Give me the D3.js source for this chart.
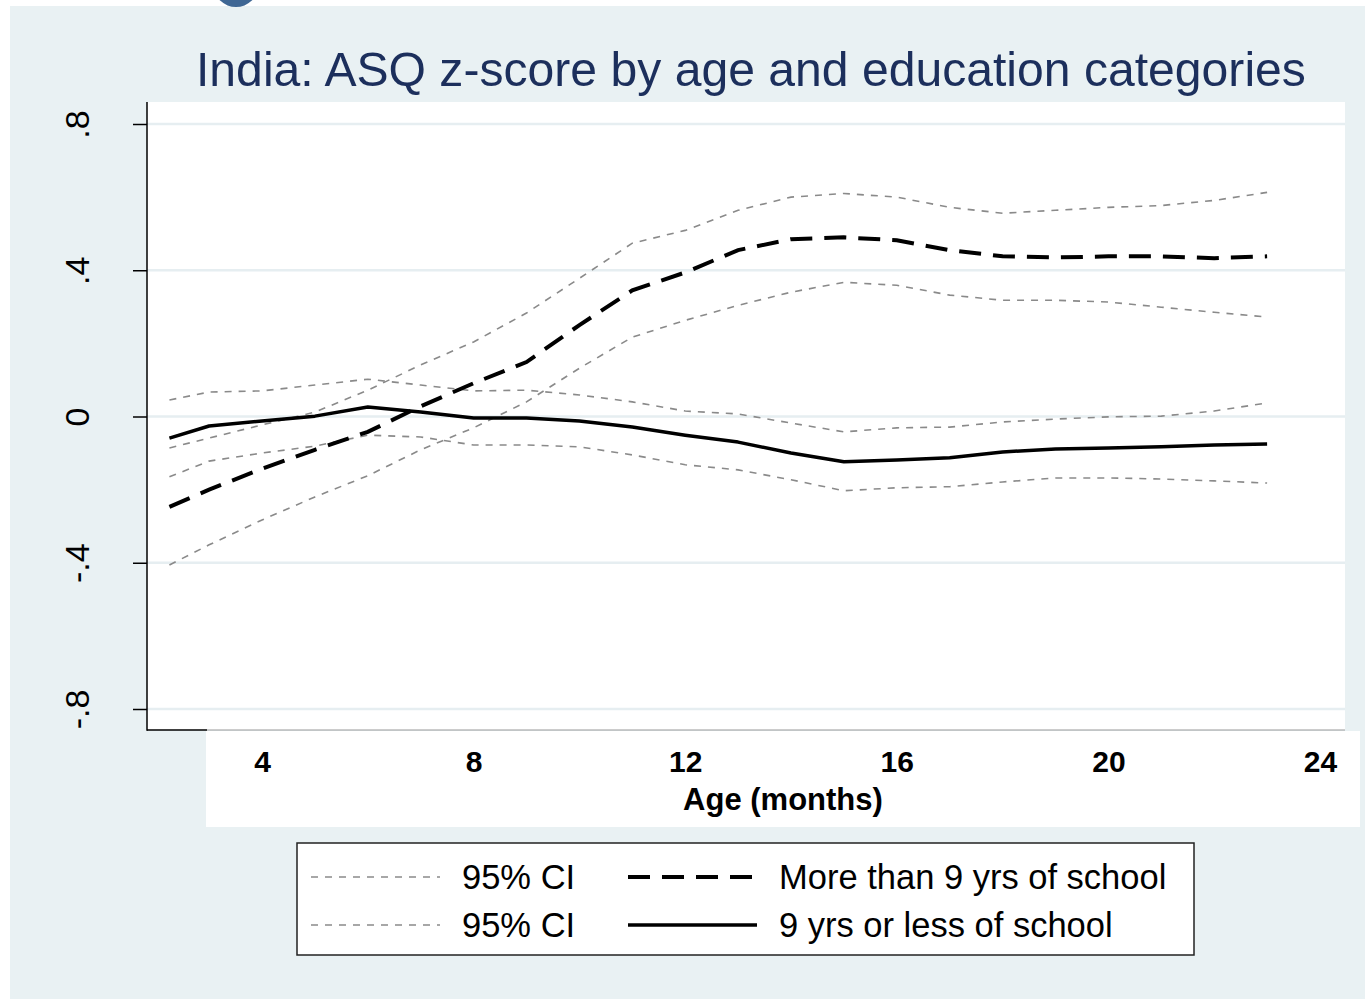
<!DOCTYPE html>
<html>
<head>
<meta charset="utf-8">
<script src="https://cdn.jsdelivr.net/npm/d3@7"></script>
<style>
  body { margin: 0; background: #fff; }
  svg { display: block; font-family: "Liberation Sans", Arial, sans-serif; }
</style>
</head>
<body>
<div id="chart"></div>
<script>
//// data (age in months, ASQ z-score)
var ages = [2.25, 3, 4, 5, 6, 7, 8, 9, 10, 11, 12, 13, 14, 15, 16, 17, 18, 19, 20, 21, 22, 23];

var moreSchool   = [-0.247, -0.200, -0.143, -0.091, -0.042, 0.028, 0.091, 0.149, 0.250, 0.345, 0.394, 0.455, 0.485, 0.490, 0.482, 0.455, 0.438, 0.435, 0.438, 0.438, 0.433, 0.438];
var moreSchoolHi = [-0.086, -0.059, -0.023, 0.012, 0.072, 0.141, 0.204, 0.283, 0.378, 0.474, 0.509, 0.564, 0.600, 0.610, 0.600, 0.572, 0.556, 0.564, 0.572, 0.577, 0.591, 0.613];
var moreSchoolLo = [-0.406, -0.351, -0.283, -0.220, -0.162, -0.091, -0.031, 0.040, 0.132, 0.217, 0.263, 0.304, 0.340, 0.367, 0.359, 0.332, 0.318, 0.318, 0.313, 0.299, 0.285, 0.272];

var lessSchool   = [-0.059, -0.026, -0.012, 0.001, 0.026, 0.012, -0.004, -0.004, -0.012, -0.029, -0.051, -0.070, -0.100, -0.124, -0.119, -0.113, -0.097, -0.089, -0.086, -0.083, -0.078, -0.075];
var lessSchoolHi = [0.045, 0.067, 0.070, 0.086, 0.102, 0.086, 0.070, 0.072, 0.059, 0.040, 0.015, 0.007, -0.018, -0.042, -0.031, -0.029, -0.015, -0.007, -0.001, 0.001, 0.015, 0.037];
var lessSchoolLo = [-0.165, -0.122, -0.100, -0.081, -0.051, -0.056, -0.078, -0.078, -0.083, -0.105, -0.132, -0.146, -0.173, -0.203, -0.195, -0.192, -0.179, -0.168, -0.168, -0.171, -0.176, -0.182];

var yTicks = [-0.8, -0.4, 0, 0.4, 0.8];
var yTickLabels = ["-.8", "-.4", "0", ".4", ".8"];
var xTicks = [4, 8, 12, 16, 20, 24];

var titleText = "India: ASQ z-score by age and education categories";
var xTitle = "Age (months)";
var legendItems = [
  {label: "95% CI", style: "ci"},
  {label: "More than 9 yrs of school", style: "dash"},
  {label: "95% CI", style: "ci"},
  {label: "9 yrs or less of school", style: "solid"}
];

//// chart
var W = 1365, H = 999;
var plot = {left: 147, right: 1345, top: 102, bottom: 730};
var panelBg = "#e9f1f3";

var svg = d3.select("#chart").append("svg")
    .attr("width", W)
    .attr("height", H);

// outer panel
svg.append("rect").attr("x", 10).attr("y", 6).attr("width", W - 10).attr("height", H - 6)
    .attr("fill", panelBg);

// bit of blue shape peeking in at top
svg.append("ellipse").attr("cx", 236).attr("cy", -14).attr("rx", 22).attr("ry", 21)
    .attr("fill", "#3f6794");

var xScale = d3.scaleLinear().domain([4, 24]).range([262, 1320]);
var yScale = d3.scaleLinear().domain([-0.8, 0.8]).range([709, 124]);

// plot region
svg.append("rect")
    .attr("x", plot.left).attr("y", plot.top)
    .attr("width", plot.right - plot.left).attr("height", plot.bottom - plot.top)
    .attr("fill", "#fff");

// gridlines
svg.append("g").selectAll("line")
    .data(yTicks).enter().append("line")
    .attr("x1", plot.left).attr("x2", plot.right)
    .attr("y1", d => yScale(d)).attr("y2", d => yScale(d))
    .attr("stroke", "#e6eef1")
    .attr("stroke-width", 2.5);

// y axis
var yAxis = svg.append("g")
    .attr("transform", "translate(" + plot.left + ",0)")
    .call(d3.axisLeft(yScale).tickValues(yTicks).tickSize(14).tickPadding(0)
        .tickFormat((d, i) => yTickLabels[i]));
yAxis.select(".domain").remove();
yAxis.selectAll(".tick line").attr("stroke", "#000").attr("stroke-width", 1.5);
yAxis.selectAll(".tick text")
    .attr("transform", "translate(-70,0) rotate(-90)")
    .attr("x", 0).attr("dy", "0.36em")
    .attr("text-anchor", "middle")
    .attr("font-size", 34)
    .attr("fill", "#000");

svg.append("line")
    .attr("x1", plot.left).attr("x2", plot.left)
    .attr("y1", plot.top).attr("y2", plot.bottom + 0.75)
    .attr("stroke", "#000").attr("stroke-width", 1.5);

//// lines
var line = d3.line()
    .x((d, i) => xScale(ages[i]))
    .y(d => yScale(d));

var ciSeries = [moreSchoolHi, moreSchoolLo, lessSchoolHi, lessSchoolLo];
svg.append("g").selectAll("path")
    .data(ciSeries).enter().append("path")
    .attr("d", line)
    .attr("fill", "none")
    .attr("stroke", "#8a8a8a")
    .attr("stroke-width", 1.6)
    .attr("stroke-dasharray", "7,7");

svg.append("path")
    .attr("d", line(moreSchool))
    .attr("fill", "none")
    .attr("stroke", "#000")
    .attr("stroke-width", 4)
    .attr("stroke-dasharray", "22,12");

svg.append("path")
    .attr("d", line(lessSchool))
    .attr("fill", "none")
    .attr("stroke", "#000")
    .attr("stroke-width", 3.5)
    .attr("stroke-linejoin", "round");

//// x axis (pasted label strip)
svg.append("line")
    .attr("x1", plot.left).attr("x2", 207)
    .attr("y1", plot.bottom).attr("y2", plot.bottom)
    .attr("stroke", "#000").attr("stroke-width", 1.5);
svg.append("line")
    .attr("x1", 207).attr("x2", plot.right)
    .attr("y1", plot.bottom).attr("y2", plot.bottom)
    .attr("stroke", "#999").attr("stroke-width", 1.2);

svg.append("rect")
    .attr("x", 206).attr("y", 731)
    .attr("width", 1360 - 206).attr("height", 827 - 731)
    .attr("fill", "#fff");

var xAxis = svg.append("g")
    .attr("transform", "translate(0," + plot.bottom + ")")
    .call(d3.axisBottom(xScale).tickValues(xTicks).tickSize(0).tickPadding(0));
xAxis.select(".domain").remove();
xAxis.selectAll(".tick text")
    .attr("y", 42).attr("dy", 0)
    .attr("font-size", 30)
    .attr("font-weight", "bold")
    .attr("fill", "#000");

svg.append("text")
    .attr("x", 783).attr("y", 810)
    .attr("text-anchor", "middle")
    .attr("font-size", 31)
    .attr("font-weight", "bold")
    .text(xTitle);

//// title
var title = svg.append("text")
    .attr("x", 196).attr("y", 86)
    .attr("font-size", 48)
    .attr("fill", "#1c2f5c")
    .text(titleText);
var tw = title.node().getComputedTextLength();
title.attr("font-size", 48 * 1110 / tw);

//// legend
var legend = svg.append("g");
legend.append("rect")
    .attr("x", 297).attr("y", 843)
    .attr("width", 1194 - 297).attr("height", 955 - 843)
    .attr("fill", "#fff")
    .attr("stroke", "#222")
    .attr("stroke-width", 1.5);

var colX = [311, 628];
var rowY = [877, 925];
legendItems.forEach(function(item, i) {
    var c = i % 2, r = Math.floor(i / 2);
    var ln = legend.append("line")
        .attr("x1", colX[c]).attr("x2", colX[c] + 129)
        .attr("y1", rowY[r]).attr("y2", rowY[r])
        .attr("fill", "none");
    if (item.style === "ci") {
        ln.attr("stroke", "#8a8a8a").attr("stroke-width", 1.6).attr("stroke-dasharray", "7,7");
    } else if (item.style === "dash") {
        ln.attr("stroke", "#000").attr("stroke-width", 4).attr("stroke-dasharray", "22,12");
    } else {
        ln.attr("stroke", "#000").attr("stroke-width", 3.5);
    }
    legend.append("text")
        .attr("x", colX[c] + 151).attr("y", rowY[r] + 12)
        .attr("font-size", 34.5)
        .attr("fill", "#000")
        .text(item.label);
});
</script>
</body>
</html>
